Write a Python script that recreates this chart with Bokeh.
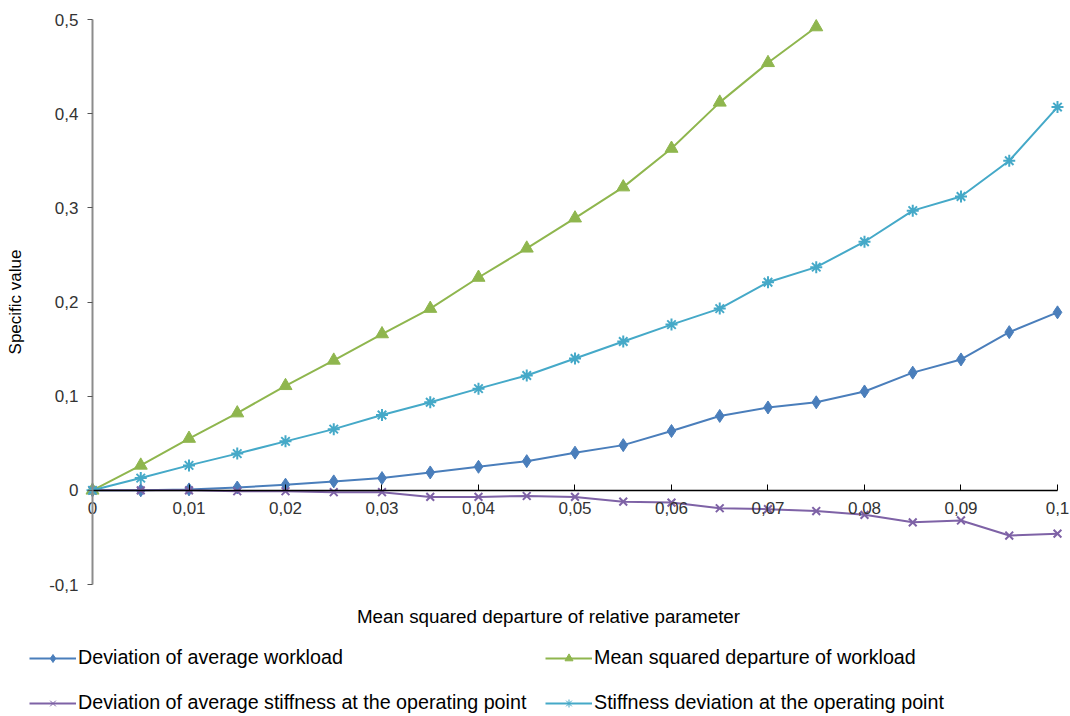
from bokeh.plotting import figure
from bokeh.models import (Range1d, FixedTicker, LinearAxis, Legend, LegendItem,
                          Label, ColumnDataSource)
from bokeh.embed import file_html
from bokeh.resources import INLINE

# Relative parameter values (x) and the four specific-value series
x_values = [0.0, 0.005, 0.01, 0.015, 0.02, 0.025, 0.03, 0.035, 0.04, 0.045, 0.05,
            0.055, 0.06, 0.065, 0.07, 0.075, 0.08, 0.085, 0.09, 0.095, 0.1]

avg_workload_dev = [0.0, 0.0, 0.001, 0.003, 0.006, 0.0095, 0.013, 0.019, 0.025, 0.031, 0.040,
                    0.048, 0.063, 0.079, 0.088, 0.0935, 0.105, 0.125, 0.139, 0.168, 0.189]

msd_workload_x = [0.0, 0.005, 0.01, 0.015, 0.02, 0.025, 0.03, 0.035, 0.04, 0.045, 0.05,
                  0.055, 0.06, 0.065, 0.07, 0.075]
msd_workload = [0.0, 0.0265, 0.055, 0.082, 0.111, 0.138, 0.166, 0.193, 0.226, 0.257, 0.289,
                0.322, 0.363, 0.412, 0.454, 0.492]

avg_stiffness_dev = [0.0, 0.0, 0.0, -0.001, -0.001, -0.002, -0.002, -0.007, -0.007, -0.006, -0.007,
                     -0.012, -0.013, -0.019, -0.020, -0.022, -0.026, -0.034, -0.032, -0.048, -0.046]

stiffness_dev = [0.0, 0.013, 0.0265, 0.039, 0.052, 0.065, 0.080, 0.0935, 0.108, 0.122, 0.140,
                 0.158, 0.176, 0.193, 0.221, 0.237, 0.264, 0.297, 0.312, 0.350, 0.407]

x_ticks = [0.0, 0.01, 0.02, 0.03, 0.04, 0.05, 0.06, 0.07, 0.08, 0.09, 0.1]
x_tick_labels = ["0", "0,01", "0,02", "0,03", "0,04", "0,05", "0,06", "0,07", "0,08", "0,09", "0,1"]
y_ticks = [-0.1, 0.0, 0.1, 0.2, 0.3, 0.4, 0.5]
y_tick_labels = ["-0,1", "0", "0,1", "0,2", "0,3", "0,4", "0,5"]

series_names = ["Deviation of average workload",
                "Mean squared departure of workload",
                "Deviation of average stiffness at the operating point",
                "Stiffness deviation at the operating point"]
colors = ["#4A7EBB", "#8FB64E", "#7E62A6", "#45A9C8"]
markers = ["diamond", "triangle", "x", "asterisk"]
marker_sizes = [13, 13, 11, 12]

FONT = "Liberation Sans"

# The plotting frame fills the whole page; axes are pinned to x = 0 and y = 0
p = figure(width=1070, height=716, output_backend="svg", toolbar_location=None,
           x_range=Range1d(-0.0095337, 0.1013472), y_range=Range1d(-0.240177, 0.520177),
           x_axis_type=None, y_axis_type=None,
           min_border_left=0, min_border_right=0, min_border_top=0, min_border_bottom=0)
p.outline_line_color = None
p.xgrid.visible = False
p.ygrid.visible = False
p.background_fill_color = "white"
p.border_fill_color = "white"
# range used only by the legend swatch renderers, which keeps them off the chart
p.extra_x_ranges = {"swatch": Range1d(1, 2)}

# Vertical axis through x = 0
yaxis = LinearAxis(fixed_location=0, bounds=(-0.1, 0.5), ticker=FixedTicker(ticks=y_ticks))
yaxis.major_label_overrides = dict(zip(y_ticks, y_tick_labels))
yaxis.axis_line_color = "#8C8C8C"
yaxis.axis_line_width = 2
yaxis.major_tick_line_color = "#555555"
yaxis.major_tick_in = 0
yaxis.major_tick_out = 5
yaxis.minor_tick_line_color = None
yaxis.major_label_text_font = FONT
yaxis.major_label_text_font_size = "17px"
yaxis.major_label_text_color = "#333333"
yaxis.major_label_standoff = 9
yaxis.axis_label = "Specific value"
yaxis.axis_label_text_font = FONT
yaxis.axis_label_text_font_size = "17px"
yaxis.axis_label_text_font_style = "normal"
yaxis.axis_label_text_color = "#000000"
yaxis.axis_label_standoff = 21
p.add_layout(yaxis, "left")

# Horizontal axis through y = 0
xaxis = LinearAxis(fixed_location=0, bounds=(0, 0.1), ticker=FixedTicker(ticks=x_ticks))
xaxis.major_label_overrides = dict(zip(x_ticks, x_tick_labels))
xaxis.axis_line_color = "#000000"
xaxis.axis_line_width = 1.5
xaxis.major_tick_line_color = "#000000"
xaxis.major_tick_in = 6
xaxis.major_tick_out = 0
xaxis.minor_tick_line_color = None
xaxis.major_label_text_font = FONT
xaxis.major_label_text_font_size = "17px"
xaxis.major_label_text_color = "#333333"
xaxis.major_label_standoff = 12
p.add_layout(xaxis, "below")

# Data series
series = [
    (x_values, avg_workload_dev),
    (msd_workload_x, msd_workload),
    (x_values, avg_stiffness_dev),
    (x_values, stiffness_dev),
]
legend_items = []
for (xs, ys), color, marker, size, name in zip(series, colors, markers, marker_sizes, series_names):
    src = ColumnDataSource(dict(x=xs, y=ys))
    p.line("x", "y", source=src, line_color=color, line_width=2)
    p.scatter("x", "y", source=src, marker=marker, size=size,
              fill_color=color, line_color=color,
              line_width=2 if marker in ("x", "asterisk") else 1)
    # legend swatch: thin line with a small marker
    sw_line = p.line("x", "y", source=src, x_range_name="swatch",
                     line_color=color, line_width=1.8)
    sw_mark = p.scatter("x", "y", source=src, x_range_name="swatch", marker=marker, size=7,
                        fill_color=color, line_color=color, line_width=1)
    legend_items.append(LegendItem(label=name, renderers=[sw_line, sw_mark]))

def make_legend(items, loc):
    return Legend(items=items, location=loc, orientation="vertical",
                  padding=0, margin=0, spacing=22, glyph_width=47, glyph_height=20,
                  label_height=20, label_standoff=2,
                  label_text_font=FONT, label_text_font_size="19.7px",
                  label_text_color="#000000", label_text_baseline="middle",
                  border_line_alpha=0, background_fill_alpha=0)

p.add_layout(make_legend([legend_items[0], legend_items[2]], (29, 2)), "center")
p.add_layout(make_legend([legend_items[1], legend_items[3]], (545, 2)), "center")

# Horizontal axis title
p.add_layout(Label(x=548, y=100, x_units="screen", y_units="screen",
                   text="Mean squared departure of relative parameter",
                   text_font=FONT, text_font_size="18.8px", text_color="#000000",
                   text_align="center", text_baseline="middle"))

open("out.html", "w").write(file_html(p, INLINE))
